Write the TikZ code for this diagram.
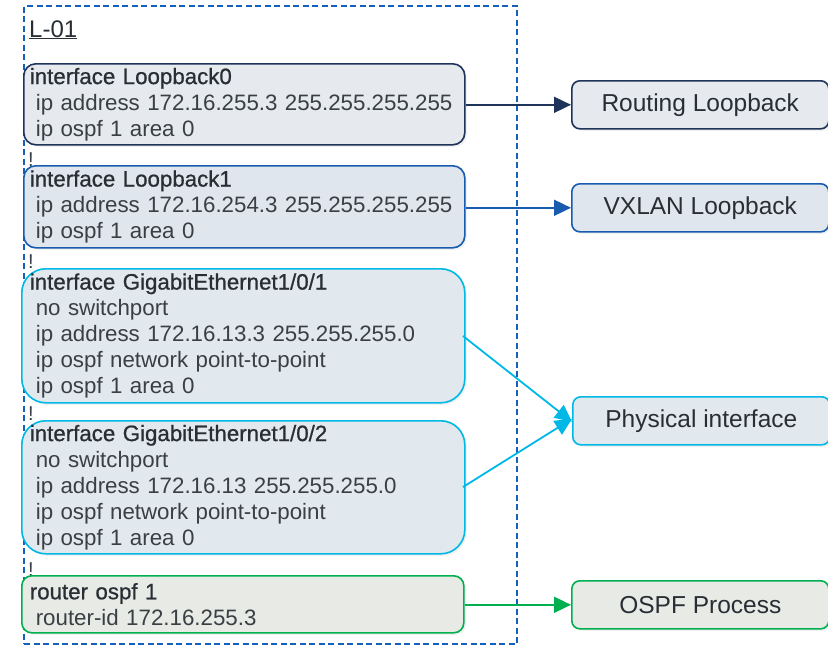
\documentclass[tikz,border=0pt]{standalone}
\usepackage{fontspec}
\setmainfont{Liberation Sans}
\newfontfamily\titlefont{Liberation Sans}[FakeBold=0.8]
\usetikzlibrary{arrows.meta,shadows}
\definecolor{navy}{RGB}{30,52,90}
\definecolor{vblue}{RGB}{24,92,176}
\definecolor{cyanb}{RGB}{0,184,230}
\definecolor{greenb}{RGB}{0,176,80}
\definecolor{dashb}{RGB}{21,96,189}
\definecolor{txt}{RGB}{58,63,68}
\definecolor{ttl}{RGB}{40,46,52}
\definecolor{fillA}{RGB}{230,233,238}
\definecolor{fillB}{RGB}{224,230,238}
\definecolor{fillC}{RGB}{225,233,238}
\definecolor{fillD}{RGB}{232,234,230}
\newcommand{\ttlline}[1]{{\titlefont\color{ttl}#1}}
\newcommand{\subline}[1]{\hspace*{6pt}#1}
\tikzset{
  cfgbox/.style={draw, line width=1.6pt, rounded corners=#1, anchor=north west,
     align=left, inner xsep=5pt, inner ysep=0pt, text=txt,
     font=\fontsize{22.3}{26}\selectfont,
     drop shadow={opacity=0.12, shadow xshift=2pt, shadow yshift=-2pt}},
  tagbox/.style={draw, line width=1.6pt, rounded corners=8pt, anchor=north west,
     minimum width=257pt, minimum height=48pt, text=ttl,
     font=\fontsize{24.5}{28}\selectfont,
     drop shadow={opacity=0.12, shadow xshift=2pt, shadow yshift=-2pt}},
  conn/.style={line width=1.8pt, -{Triangle[length=17pt,width=16pt]}},
  bang/.style={anchor=base, font=\fontsize{20}{24}\selectfont, text=txt, inner sep=0pt}
}
\begin{document}
\begin{tikzpicture}[x=1pt,y=-1pt]
\useasboundingbox (0,0) rectangle (828,646);
% outer dashed frame
\node[draw=dashb, line width=2.4pt, dash pattern=on 6pt off 3.5pt, anchor=north west,
      minimum width=493pt, minimum height=638pt, inner sep=0pt] (frame) at (23,5) {};
\node[anchor=base west, inner sep=0pt, text=ttl, font=\fontsize{24}{28}\selectfont] (title) at (29,37) {\underline{L-01}};
% separator marks
\node[bang] (b1) at (31,166) {!};
\node[bang] (b2) at (31,268) {!};
\node[bang] (b3) at (31,420) {!};
\node[bang] (b4) at (31,576) {!};
% config boxes
\node[cfgbox=12pt, draw=navy, fill=fillA, minimum width=441pt, minimum height=81pt, text width=429pt] (lo0) at (23,63)
 {\ttlline{interface Loopback0}\\\subline{ip address 172.16.255.3 255.255.255.255}\\\subline{ip ospf 1 area 0}};
\node[cfgbox=12pt, draw=vblue, fill=fillB, minimum width=441pt, minimum height=82pt, text width=429pt] (lo1) at (23,165)
 {\ttlline{interface Loopback1}\\\subline{ip address 172.16.254.3 255.255.255.255}\\\subline{ip ospf 1 area 0}};
\node[cfgbox=24pt, draw=cyanb, fill=fillC, minimum width=443pt, minimum height=134pt, text width=427pt, inner xsep=7pt] (gi1) at (21,268)
 {\ttlline{interface GigabitEthernet1/0/1}\\\subline{no switchport}\\\subline{ip address 172.16.13.3 255.255.255.0}\\\subline{ip ospf network point-to-point}\\\subline{ip ospf 1 area 0}};
\node[cfgbox=24pt, draw=cyanb, fill=fillC, minimum width=443pt, minimum height=133pt, text width=427pt, inner xsep=7pt] (gi2) at (21,420)
 {\ttlline{interface GigabitEthernet1/0/2}\\\subline{no switchport}\\\subline{ip address 172.16.13 255.255.255.0}\\\subline{ip ospf network point-to-point}\\\subline{ip ospf 1 area 0}};
\node[cfgbox=10pt, draw=greenb, fill=fillD, minimum width=442pt, minimum height=57pt, text width=426pt, inner xsep=7pt] (ospf) at (21,575)
 {\ttlline{router ospf 1}\\\subline{router-id 172.16.255.3}};
% right tag boxes
\node[tagbox, draw=navy, fill=fillA] (rl) at (571,80) {Routing Loopback};
\node[tagbox, draw=vblue, fill=fillB] (vl) at (571,183) {VXLAN Loopback};
\node[tagbox, draw=cyanb, fill=fillC] (pi) at (572,396) {Physical interface};
\node[tagbox, draw=greenb, fill=fillD] (op) at (571,580) {OSPF Process};
% connectors
\draw[conn, navy] (lo0.east |- rl.west) -- (rl.west);
\draw[conn, vblue] (lo1.east |- vl.west) -- (vl.west);
\coordinate (g1) at (463,336);
\coordinate (g2) at (463,487);
\draw[conn, cyanb] (g1) -- ([yshift=-1pt]pi.west);
\draw[conn, cyanb] (g2) -- ([yshift=2pt]pi.west);
\draw[conn, greenb] (ospf.east |- op.west) -- (op.west);
\end{tikzpicture}
\end{document}
